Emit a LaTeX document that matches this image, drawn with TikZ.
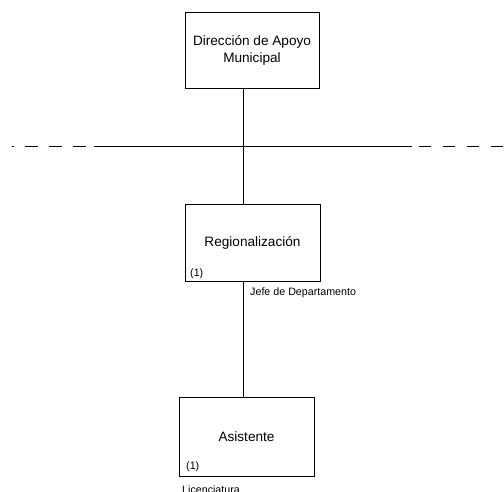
\documentclass[tikz,border=0pt]{standalone}
\usepackage{fontspec}
\setmainfont{Liberation Sans}
\begin{document}
\begin{tikzpicture}[x=1pt,y=-1pt,
  unitbox/.style={draw=black,line width=1pt,rectangle,inner sep=0pt,
    align=center,font=\fontsize{13.6}{17}\selectfont},
  note/.style={inner sep=0pt,anchor=west,font=\fontsize{10.7}{12}\selectfont},
  link/.style={draw=black,line width=0.9pt},
  boundary/.style={draw=black,line width=0.9pt}]
\useasboundingbox (0,0) rectangle (504,491);
\clip (0,0) rectangle (504,491);

% organisational units
\node[unitbox,minimum width=134pt,minimum height=76pt] (dir) at (252,50)
  {Dirección de Apoyo\\Municipal};
\node[unitbox,minimum width=135pt,minimum height=77pt] (reg) at (252.5,242.5)
  {Regionalización};
\node[unitbox,minimum width=135pt,minimum height=79pt] (asis) at (246.5,436.5)
  {Asistente};

% small annotations
\node[note] (regn) at (190,274) {(1)};
\node[note] (regp) at (250,293) {Jefe de Departamento};
\node[note] (asisn) at (186,467) {(1)};
\node[note] (asisp) at (182,490) {Licenciatura};

% reporting line
\coordinate (axis) at (243,0);
\draw[link] (dir.south -| axis) -- (reg.north -| axis);
\draw[link] (reg.south -| axis) -- (asis.north -| axis);

% level boundary
\coordinate (bl) at (12,146);
\coordinate (bsl) at (94,146);
\coordinate (bsr) at (412,146);
\coordinate (br) at (419,146);
\coordinate (bend) at (504,146);
\draw[boundary,dash pattern=on 13pt off 11pt] (86,146) -- (bl);
\draw[boundary] (bsl) -- (bsr);
\draw[boundary,dash pattern=on 12pt off 12pt] (br) -- (bend);
\end{tikzpicture}
\end{document}
